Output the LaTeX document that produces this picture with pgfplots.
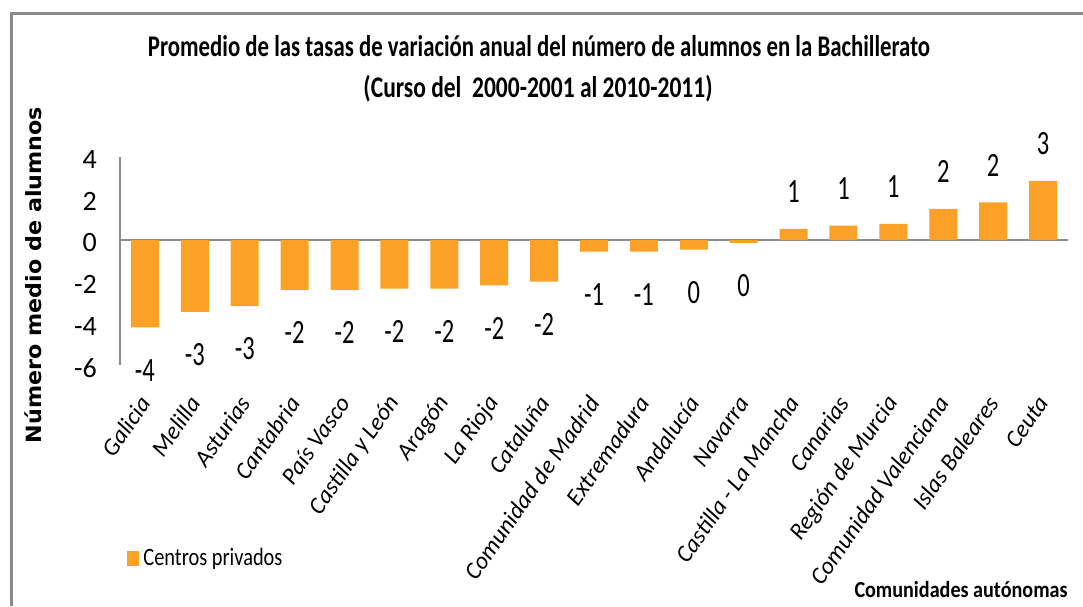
\documentclass[border=0pt]{standalone}
\usepackage{pgfplots}
\pgfplotsset{compat=1.18}
\usepackage{pgfplotstable}
\usepackage{graphicx}
\usepackage{fontspec}
\setmainfont{Carlito}
\newfontfamily\dejavu{DejaVu Sans}
\definecolor{barorange}{HTML}{FBA127}
\definecolor{axisgray}{HTML}{8C8C8C}
\definecolor{framegray}{HTML}{8A8A8A}

\pgfplotstableread{
x y label
0 -4.20 -4
1 -3.45 -3
2 -3.17 -3
3 -2.40 -2
4 -2.40 -2
5 -2.34 -2
6 -2.34 -2
7 -2.18 -2
8 -2.00 -2
9 -0.56 -1
10 -0.56 -1
11 -0.46 0
12 -0.14 0
}\negdata

\pgfplotstableread{
x y label
13 0.53 1
14 0.69 1
15 0.78 1
16 1.50 2
17 1.81 2
18 2.84 3
}\posdata

\begin{document}
\begin{tikzpicture}
\path[use as bounding box] (0pt,0pt) rectangle (1083pt,606pt);
\draw[framegray, line width=3pt] (11pt,0pt) -- (11pt,592pt) -- (1083pt,592pt);

\node at (539pt,560pt) {\resizebox{782pt}{\height}{\bfseries\fontsize{30}{30}\selectfont Promedio de las tasas de variación anual del número de alumnos en la Bachillerato}};
\node at (538pt,517pt) {\resizebox{349pt}{\height}{\bfseries\fontsize{30}{30}\selectfont (Curso del\ \ 2000-2001 al 2010-2011)}};
\node[rotate=90] at (33pt,331pt) {\resizebox{336pt}{\height}{\dejavu\bfseries\fontsize{21}{21}\selectfont Número medio de alumnos}};
\node at (961pt,16pt) {\resizebox{213pt}{\height}{\bfseries\fontsize{23}{23}\selectfont Comunidades autónomas}};

\begin{axis}[
  at={(120pt,241.2pt)}, anchor=south west,
  scale only axis, width=948pt, height=208pt,
  xmin=-0.5, xmax=18.5, ymin=-6, ymax=4,
  axis x line*=bottom, axis y line*=left,
  x axis line style={draw=none},
  y axis line style={axisgray, line width=1.2pt},
  major tick length=0pt,
  extra y ticks={0}, extra y tick labels={},
  extra y tick style={grid=major, major grid style={axisgray, line width=2pt}},
  xtick={0,...,18},
  xticklabels={Galicia, Melilla, Asturias, Cantabria, País Vasco, Castilla y León, Aragón, La Rioja, Cataluña, Comunidad de Madrid, Extremadura, Andalucía, Navarra, Castilla - La Mancha, Canarias, Región de Murcia, Comunidad Valenciana, Islas Baleares, Ceuta},
  xticklabel style={rotate=55, anchor=east, inner sep=0pt, font=\fontsize{24}{24}\selectfont\itshape},
  xticklabel shift=34pt,
  ytick={-6,-4,...,4},
  yticklabel style={anchor=east, inner sep=0pt, xshift=-23pt, yshift=-3pt, font=\fontsize{28}{28}\selectfont},
  /pgf/number format/assume math mode=true,
  clip=false,
  ybar, bar width=28pt,
  legend style={at={(axis description cs:0.007,-0.929)}, anchor=west, draw=none, fill=none, inner sep=0pt,
    font=\fontsize{25}{25}\selectfont, nodes={inner sep=0pt},
    /tikz/every odd column/.append style={column sep=4pt}},
  legend image code/.code={\fill[barorange] (0pt,-7.5pt) rectangle (12.6pt,7.5pt);},
]
\addplot[fill=barorange, draw=none, bar shift=0pt, point meta=explicit symbolic,
  nodes near coords={\scalebox{0.72}[1]{\pgfplotspointmeta}}, nodes near coords align=center,
  every node near coord/.append style={yshift=-43pt, font=\fontsize{34}{34}\selectfont, text=black}]
  table[x=x, y=y, meta=label]{\negdata};
\addlegendentry{\resizebox{139pt}{\height}{Centros privados}}
\addplot[fill=barorange, draw=none, bar shift=0pt, forget plot, point meta=explicit symbolic,
  nodes near coords={\scalebox{0.72}[1]{\pgfplotspointmeta}}, nodes near coords align=center,
  every node near coord/.append style={yshift=37pt, font=\fontsize{34}{34}\selectfont, text=black}]
  table[x=x, y=y, meta=label]{\posdata};
\end{axis}
\end{tikzpicture}
\end{document}
